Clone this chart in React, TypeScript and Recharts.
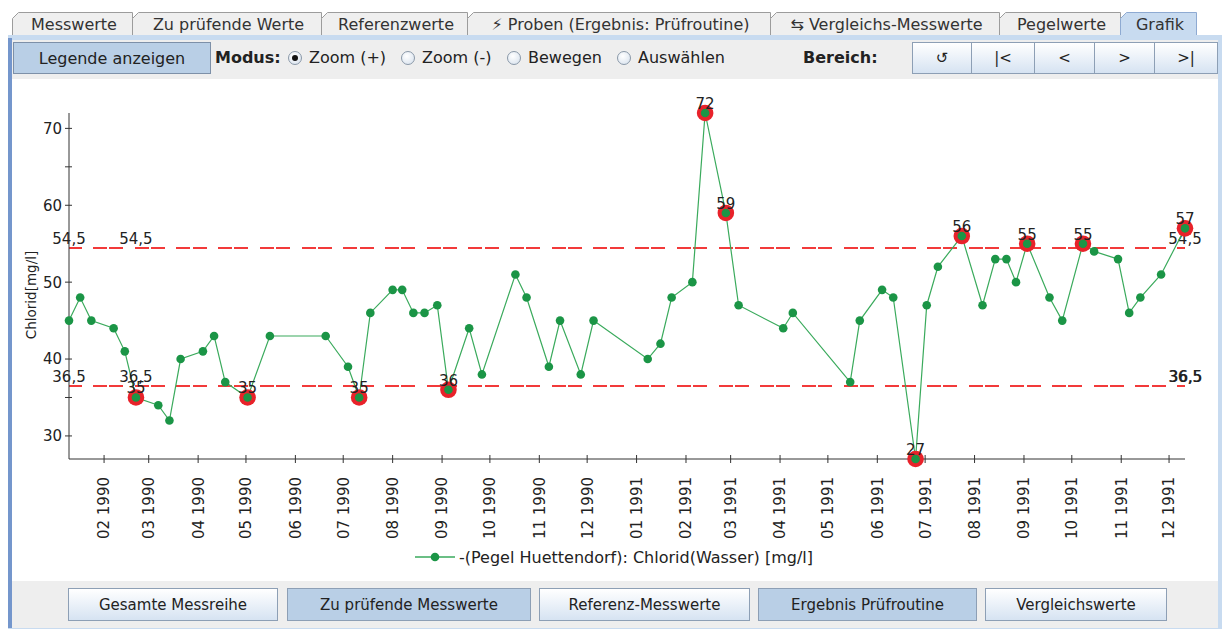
import React from 'react';
import { ComposedChart, Line, XAxis, YAxis, ReferenceLine, ReferenceDot, Legend } from 'recharts';

// ---------- data ----------
const sampleDates = [
  '1990-01-10', '1990-01-17', '1990-01-24', '1990-02-07', '1990-02-14', '1990-02-21', '1990-03-07',
  '1990-03-14', '1990-03-21', '1990-04-04', '1990-04-11', '1990-04-18', '1990-05-02', '1990-05-16',
  '1990-06-20', '1990-07-04', '1990-07-11', '1990-07-18', '1990-08-01', '1990-08-07', '1990-08-14',
  '1990-08-21', '1990-08-29', '1990-09-05', '1990-09-18', '1990-09-26', '1990-10-17', '1990-10-24',
  '1990-11-07', '1990-11-14', '1990-11-27', '1990-12-05', '1991-01-08', '1991-01-16', '1991-01-23',
  '1991-02-05', '1991-02-13', '1991-02-26', '1991-03-06', '1991-04-03', '1991-04-09', '1991-05-15',
  '1991-05-21', '1991-06-04', '1991-06-11', '1991-06-25', '1991-07-02', '1991-07-09', '1991-07-24',
  '1991-08-06', '1991-08-14', '1991-08-21', '1991-08-27', '1991-09-03', '1991-09-17', '1991-09-25',
  '1991-10-08', '1991-10-15', '1991-10-30', '1991-11-06', '1991-11-13', '1991-11-26', '1991-12-11',
];
const chloridValues = [
  45, 48, 45, 44, 41, 35, 34,
  32, 40, 41, 43, 37, 35, 43,
  43, 39, 35, 46, 49, 49, 46,
  46, 47, 36, 44, 38, 51, 48,
  39, 45, 38, 45, 40, 42, 48,
  50, 72, 59, 47, 44, 46, 37,
  45, 49, 48, 27, 47, 52, 56,
  47, 53, 53, 50, 55, 48, 45,
  55, 54, 53, 46, 48, 51, 57,
];
const flaggedDates = [
  '1990-02-21', '1990-05-02', '1990-07-11', '1990-09-05', '1991-02-13', '1991-02-26',
  '1991-06-25', '1991-07-24', '1991-09-03', '1991-10-08', '1991-12-11',
];
const monthTicks = [
  '1990-02', '1990-03', '1990-04', '1990-05', '1990-06', '1990-07', '1990-08', '1990-09',
  '1990-10', '1990-11', '1990-12', '1991-01', '1991-02', '1991-03', '1991-04', '1991-05',
  '1991-06', '1991-07', '1991-08', '1991-09', '1991-10', '1991-11', '1991-12',
];
const yTicks = [30, 35, 40, 50, 60, 65, 70];
const yLabeledTicks = [30, 40, 50, 60, 70];
const limitValues = [54.5, 36.5];
const limitLabels = ['54,5', '36,5'];
const seriesName = '-(Pegel Huettendorf): Chlorid(Wasser) [mg/l]';
const yAxisTitle = 'Chlorid[mg/l]';

const tabLabels = [
  'Messwerte', 'Zu prüfende Werte', 'Referenzwerte', '\u26A1\uFE0E Proben (Ergebnis: Prüfroutine)',
  '\u21C6 Vergleichs-Messwerte', 'Pegelwerte', 'Grafik',
];
const modeLabels = ['Zoom (+)', 'Zoom (-)', 'Bewegen', 'Auswählen'];
const navLabels = ['\u21BA', '|<', '<', '>', '>|'];
const bottomLabels = ['Gesamte Messreihe', 'Zu prüfende Messwerte', 'Referenz-Messwerte', 'Ergebnis Prüfroutine', 'Vergleichswerte'];

// ---------- helpers ----------
const toDay = (s: string) => {
  const [y, m, d] = s.split('-').map(Number);
  return Date.UTC(y, m - 1, d || 1) / 86400000;
};
const data = sampleDates.map((d, i) => ({
  t: toDay(d),
  v: chloridValues[i],
  flag: flaggedDates.includes(d),
}));
const tickDays = monthTicks.map((m) => toDay(m + '-01'));
const fmtTick = (day: number) => {
  const dt = new Date(day * 86400000);
  const mm = String(dt.getUTCMonth() + 1).padStart(2, '0');
  return `${mm} ${dt.getUTCFullYear()}`;
};
const firstFlagged = data.find((d) => d.flag)!;

// ---------- style ----------
const FONT = "'DejaVu Sans', sans-serif";
const LINE_GREEN = '#3aaa5c';
const DOT_GREEN = '#1b9546';
const RED = '#e8222a';
const DASH_RED = '#f23a3a';
const TXT = '#222';
const AXIS = '#333';

const XTick = (p: any) => {
  const { x, y, payload } = p;
  return (
    <g>
      <line x1={x} x2={x} y1={y - 22} y2={y - 14} stroke={AXIS} strokeWidth={1} />
      <text
        transform={`translate(${x},${y}) rotate(-90)`}
        textAnchor="end"
        dy="0.36em"
        fontSize={15}
        fontFamily={FONT}
        fill={TXT}
      >
        {fmtTick(payload.value)}
      </text>
    </g>
  );
};

const YTick = (p: any) => {
  const { x, y, payload } = p;
  const show = yLabeledTicks.includes(payload.value);
  return (
    <g>
      <line x1={x + 3} x2={x + 10} y1={y} y2={y} stroke={AXIS} strokeWidth={1} />
      {show && (
        <text x={x} y={y} textAnchor="end" dy="0.36em" fontSize={15} fontFamily={FONT} fill={TXT}>
          {payload.value}
        </text>
      )}
    </g>
  );
};

const renderDot = (p: any) => {
  const { cx, cy, payload, index } = p;
  if (cx == null || cy == null) return <g key={`d${index}`} />;
  return (
    <g key={`d${index}`}>
      {payload.flag && <circle cx={cx} cy={cy} r={8.3} fill={RED} />}
      <circle cx={cx} cy={cy} r={4.3} fill={DOT_GREEN} />
      {payload.flag && (
        <text x={cx} y={cy - 4} textAnchor="middle" fontSize={15} fontFamily={FONT} fill={TXT}>
          {payload.v}
        </text>
      )}
    </g>
  );
};

const makeLimitLabel = (text: string, bold: boolean) => (p: any) => {
  const vb = p.viewBox || {};
  const x0 = vb.x;
  const x1 = vb.x + (vb.width || 0);
  const y = vb.y - 4;
  const common = { fontSize: 15, fontFamily: FONT, fill: TXT, textAnchor: 'middle' as const };
  return (
    <g>
      <text x={x0} y={y} {...common}>{text}</text>
      <text x={x1} y={y} {...common}>{text}</text>
      {bold && <text x={x1 + 0.8} y={y} {...common}>{text}</text>}
    </g>
  );
};

const makeDotLabel = (text: string) => (p: any) => {
  const vb = p.viewBox || {};
  const cx = vb.x + (vb.width || 0) / 2;
  const cy = vb.y + (vb.height || 0) / 2;
  return (
    <text x={cx} y={cy - 4} textAnchor="middle" fontSize={15} fontFamily={FONT} fill={TXT}>
      {text}
    </text>
  );
};

const yTitle = (p: any) => {
  const vb = p.viewBox || { x: 0, y: 33, width: 69, height: 346 };
  const cx = vb.x + 31;
  const cy = vb.y + vb.height / 2 + 9;
  return (
    <text
      transform={`translate(${cx},${cy}) rotate(-90)`}
      textAnchor="middle"
      dy="0.36em"
      fontSize={13.5}
      fontFamily={FONT}
      fill={TXT}
    >
      {yAxisTitle}
    </text>
  );
};

const LegendContent = () => (
  <div
    style={{
      display: 'flex',
      alignItems: 'center',
      justifyContent: 'center',
      paddingLeft: 13,
      fontFamily: FONT,
      fontSize: 16,
      color: TXT,
      height: 20,
    }}
  >
    <svg width={40} height={12} style={{ display: 'block' }}>
      <line x1={0} x2={40} y1={6} y2={6} stroke={LINE_GREEN} strokeWidth={1.3} />
      <circle cx={20} cy={6} r={4.3} fill={DOT_GREEN} />
    </svg>
    <span style={{ marginLeft: 4, whiteSpace: 'nowrap' }}>{seriesName}</span>
  </div>
);

// ---------- UI chrome ----------
const tabX = [12, 132, 321, 467, 770, 999, 1120, 1196];

const Tabs = () => (
  <svg width={1222} height={41} style={{ position: 'absolute', left: 0, top: 0 }}>
    {tabLabels.map((lab, i) => {
      const x0 = tabX[i];
      const x1 = tabX[i + 1];
      const sel = i === tabLabels.length - 1;
      return (
        <g key={lab}>
          <path
            d={`M${x0 + 0.5},36 L${x0 + 0.5},18.5 L${x0 + 6.5},12.5 L${x1 + 0.5},12.5 L${x1 + 0.5},36`}
            fill={sel ? '#c8dbf0' : '#efefef'}
            stroke={sel ? '#8eaad2' : '#9c9c9c'}
            strokeWidth={1}
          />
          <text
            x={(x0 + x1) / 2 + 2}
            y={30}
            textAnchor="middle"
            fontSize={16}
            fontFamily={FONT}
            fill="#333"
          >
            {lab}
          </text>
        </g>
      );
    })}
    <rect x={8} y={35} width={1214} height={6} fill="#c8dbf0" />
  </svg>
);

const btnGrad = 'linear-gradient(#ffffff, #d6e3f2)';
const btnSel = '#b9cfe6';

const Radio = ({ on }: { on: boolean }) => (
  <div
    style={{
      width: 14,
      height: 14,
      borderRadius: '50%',
      border: '1px solid #8a98a8',
      background: 'radial-gradient(circle at 40% 35%, #ffffff, #d4dfec)',
      display: 'flex',
      alignItems: 'center',
      justifyContent: 'center',
      boxSizing: 'border-box',
    }}
  >
    {on && <div style={{ width: 6, height: 6, borderRadius: '50%', background: '#111' }} />}
  </div>
);

const modeX = [288, 401, 507, 617];
const navX = [912, 971, 1034, 1094, 1154, 1217];
const bottomX = [[68, 278], [287, 531], [539, 750], [758, 977], [985, 1167]];
const bottomSel = [false, true, false, true, false];

export default function App() {
  return (
    <div
      style={{
        position: 'absolute',
        left: 0,
        top: 0,
        width: 1222,
        height: 629,
        background: '#ffffff',
        overflow: 'hidden',
        fontFamily: FONT,
        color: '#333',
      }}
    >
      <Tabs />
      {/* left / right borders */}
      <div style={{ position: 'absolute', left: 8, top: 38, width: 4, height: 591, background: '#7496cc' }} />
      <div style={{ position: 'absolute', left: 1218, top: 38, width: 4, height: 591, background: '#c8dbf0' }} />

      {/* toolbar */}
      <div style={{ position: 'absolute', left: 12, top: 40, width: 1206, height: 39, background: '#eeeeee' }} />
      <div
        style={{
          position: 'absolute', left: 13, top: 42, width: 198, height: 32, boxSizing: 'border-box',
          border: '1px solid #7d90a8', background: btnSel, fontSize: 16, display: 'flex',
          alignItems: 'center', justifyContent: 'center', color: '#222',
        }}
      >
        Legende anzeigen
      </div>
      <div style={{ position: 'absolute', left: 215, top: 48, fontSize: 16, fontWeight: 'bold', color: '#222' }}>Modus:</div>
      {modeLabels.map((m, i) => (
        <div
          key={m}
          style={{ position: 'absolute', left: modeX[i], top: 48, display: 'flex', alignItems: 'center', fontSize: 16, color: '#222', whiteSpace: 'nowrap' }}
        >
          <Radio on={i === 0} />
          <span style={{ marginLeft: 7 }}>{m}</span>
        </div>
      ))}
      <div style={{ position: 'absolute', left: 803, top: 48, fontSize: 16, fontWeight: 'bold', color: '#222' }}>Bereich:</div>
      {navLabels.map((n, i) => (
        <div
          key={i}
          style={{
            position: 'absolute', left: navX[i], top: 42, width: navX[i + 1] - navX[i] + 1, height: 32,
            boxSizing: 'border-box', border: '1px solid #8d9fb5', background: btnGrad, fontSize: 15,
            display: 'flex', alignItems: 'center', justifyContent: 'center', color: '#222',
          }}
        >
          {n}
        </div>
      ))}

      {/* bottom bar */}
      <div style={{ position: 'absolute', left: 12, top: 581, width: 1206, height: 47, background: '#eeeeee' }} />
      <div style={{ position: 'absolute', left: 8, top: 628, width: 1214, height: 1, background: '#c8dbf0' }} />
      {bottomLabels.map((b, i) => (
        <div
          key={b}
          style={{
            position: 'absolute', left: bottomX[i][0], top: 588, width: bottomX[i][1] - bottomX[i][0], height: 33,
            boxSizing: 'border-box', border: '1px solid #8d9fb5', background: bottomSel[i] ? btnSel : btnGrad,
            fontSize: 15, display: 'flex', alignItems: 'center', justifyContent: 'center', color: '#222',
            whiteSpace: 'nowrap',
          }}
        >
          {b}
        </div>
      ))}

      {/* chart */}
      <div style={{ position: 'absolute', left: 0, top: 80 }}>
        <ComposedChart
          width={1215}
          height={500}
          data={data}
          margin={{ top: 33, right: 30, bottom: 21, left: 0 }}
        >
          <XAxis
            type="number"
            dataKey="t"
            domain={[data[0].t, data[data.length - 1].t]}
            ticks={tickDays}
            interval={0}
            tick={<XTick />}
            tickLine={false}
            tickSize={4}
            tickMargin={14}
            height={100}
            axisLine={{ stroke: AXIS, strokeWidth: 1 }}
          />
          <YAxis
            type="number"
            domain={[27, 72]}
            ticks={yTicks}
            interval={0}
            width={69}
            tick={<YTick />}
            tickLine={false}
            tickSize={4}
            tickMargin={3}
            axisLine={{ stroke: AXIS, strokeWidth: 1 }}
            label={yTitle}
          />
          {limitValues.map((lv, i) => (
            <ReferenceLine
              key={`rl${i}`}
              y={lv}
              stroke={DASH_RED}
              strokeWidth={2}
              strokeDasharray="14 2.3 14 11.4"
              strokeDashoffset={17.7}
              shapeRendering="crispEdges"
              label={makeLimitLabel(limitLabels[i], i === 1)}
            />
          ))}
          {limitValues.map((lv, i) => (
            <ReferenceDot
              key={`rd${i}`}
              x={firstFlagged.t}
              y={lv}
              r={0}
              fill="none"
              stroke="none"
              label={makeDotLabel(limitLabels[i])}
            />
          ))}
          <Line
            type="linear"
            dataKey="v"
            name={seriesName}
            stroke={LINE_GREEN}
            strokeWidth={1.2}
            dot={renderDot}
            activeDot={false}
            isAnimationActive={false}
          />
          <Legend
            layout="horizontal"
            verticalAlign="middle"
            align="center"
            content={<LegendContent />}
            wrapperStyle={{ position: 'absolute', top: 467, left: 0, width: 1215, height: 20 }}
          />
        </ComposedChart>
      </div>
    </div>
  );
}
